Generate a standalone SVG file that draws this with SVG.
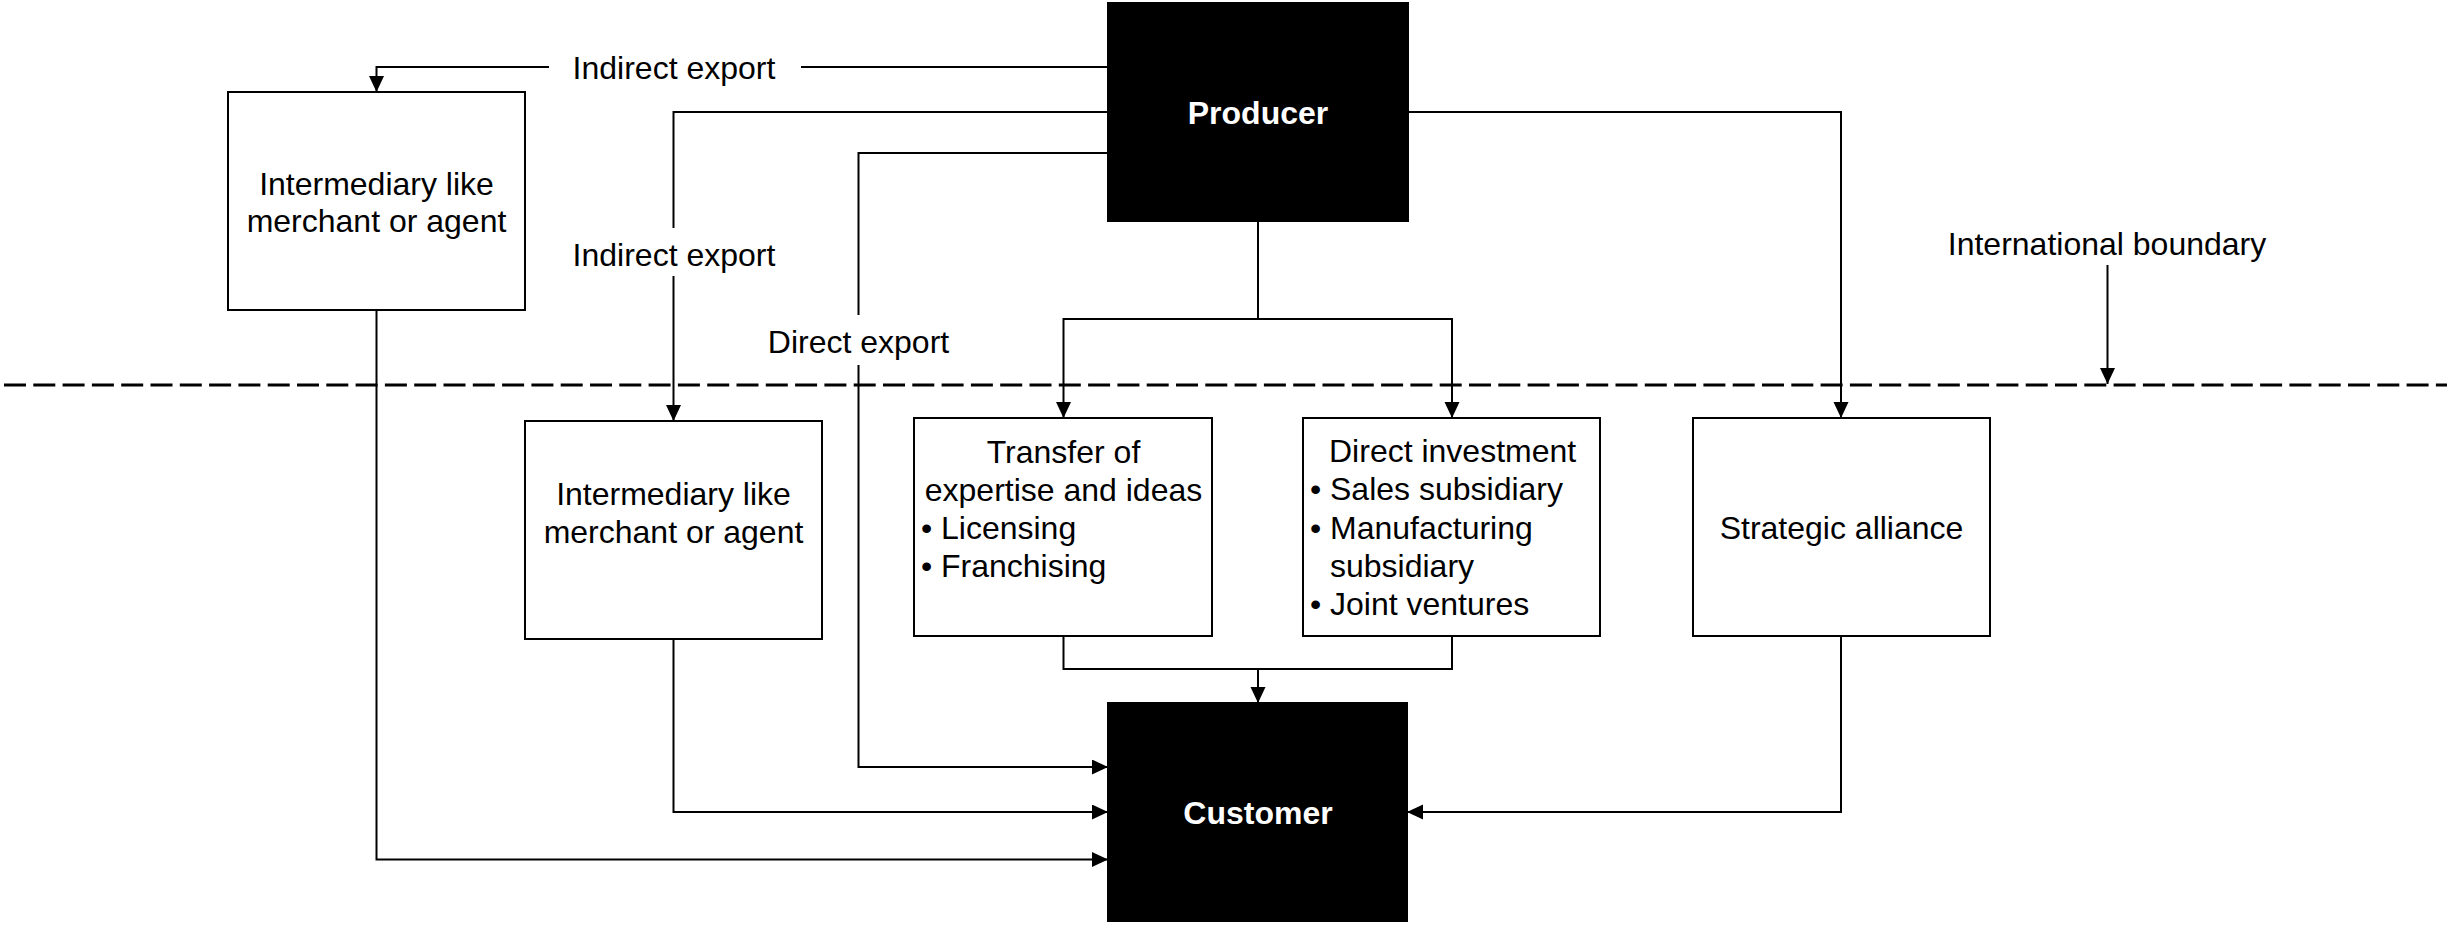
<svg xmlns="http://www.w3.org/2000/svg" width="2447" height="925" viewBox="0 0 2447 925">
  <style>
    .box { fill: #ffffff; stroke: #000000; stroke-width: 2; }
    .dark { fill: #000000; stroke: #000000; stroke-width: 2; }
    .t { font-family: "Liberation Sans", Arial, sans-serif; font-size: 32px; fill: #000000; }
    .c { text-anchor: middle; }
    .w { fill: #ffffff; font-weight: bold; }
    .ln { fill: none; stroke: #000000; stroke-width: 2; }
    .arr { marker-end: url(#head); }
    .border { fill: none; stroke: #000000; stroke-width: 3; stroke-dasharray: 22 7.3; }
  </style>
  <defs>
    <marker id="head" markerUnits="userSpaceOnUse" markerWidth="17" markerHeight="16" refX="16" refY="7.5" orient="auto">
      <path d="M0,0 L16,7.5 L0,15 z" fill="#000000"/>
    </marker>
  </defs>
  <rect width="2447" height="925" fill="#ffffff"/>

  <!-- international boundary -->
  <line class="border" x1="4" y1="385" x2="2447" y2="385"/>

  <!-- connectors -->
  <g id="connectors">
    <!-- producer to foreign-side intermediary (indirect export, top) -->
    <path class="ln" d="M1108,67 H801"/>
    <path class="ln arr" d="M549,67 H376.5 V92"/>
    <!-- producer to home-side intermediary -->
    <path class="ln" d="M1108,112 H673.5 V228"/>
    <path class="ln arr" d="M673.5,276 V421"/>
    <!-- direct export -->
    <path class="ln" d="M1108,153 H858.5 V315"/>
    <path class="ln arr" d="M858.5,365 V767 H1108"/>
    <!-- producer to strategic alliance -->
    <path class="ln arr" d="M1408,112 H1841 V418"/>
    <!-- producer to transfer / direct investment -->
    <path class="ln" d="M1258,221 V319"/>
    <path class="ln arr" d="M1258,319 H1063.5 V418"/>
    <path class="ln arr" d="M1258,319 H1452 V418"/>
    <!-- transfer / direct investment to customer -->
    <path class="ln" d="M1063.5,636 V669 H1452 V636"/>
    <path class="ln arr" d="M1258,669 V703"/>
    <!-- intermediaries to customer -->
    <path class="ln arr" d="M673.5,639 V812 H1108"/>
    <path class="ln arr" d="M376.5,310 V859.5 H1108"/>
    <!-- strategic alliance to customer -->
    <path class="ln arr" d="M1841,636 V812 H1407"/>
    <!-- boundary pointer -->
    <path class="ln arr" d="M2107.5,265 V384"/>
  </g>

  <!-- connector labels -->
  <g id="labels">
    <text class="t c" x="674" y="78.5">Indirect export</text>
    <text class="t c" x="674" y="266">Indirect export</text>
    <text class="t c" x="858.5" y="352.5">Direct export</text>
    <text class="t c" x="2107" y="254.5">International boundary</text>
  </g>

  <g id="producer">
    <rect class="dark" x="1108" y="3" width="300" height="218"/>
    <text class="t c w" x="1258" y="123.5">Producer</text>
  </g>

  <g id="customer">
    <rect class="dark" x="1108" y="703" width="299" height="218"/>
    <text class="t c w" x="1258" y="823.5">Customer</text>
  </g>

  <g id="intermediary-abroad">
    <rect class="box" x="228" y="92" width="297" height="218"/>
    <text class="t c" x="376.5" y="194.5">Intermediary like</text>
    <text class="t c" x="376.5" y="232">merchant or agent</text>
  </g>

  <g id="intermediary-home">
    <rect class="box" x="525" y="421" width="297" height="218"/>
    <text class="t c" x="673.5" y="505">Intermediary like</text>
    <text class="t c" x="673.5" y="542.5">merchant or agent</text>
  </g>

  <g id="transfer">
    <rect class="box" x="914" y="418" width="298" height="218"/>
    <text class="t c" x="1063.5" y="462.5">Transfer of</text>
    <text class="t c" x="1063.5" y="500.8">expertise and ideas</text>
    <text class="t" x="921" y="539.1">•</text>
    <text class="t" x="941" y="539.1">Licensing</text>
    <text class="t" x="921" y="577.4">•</text>
    <text class="t" x="941" y="577.4">Franchising</text>
  </g>

  <g id="direct-investment">
    <rect class="box" x="1303" y="418" width="297" height="218"/>
    <text class="t" x="1329" y="462">Direct investment</text>
    <text class="t" x="1310" y="500.3">•</text>
    <text class="t" x="1330" y="500.3">Sales subsidiary</text>
    <text class="t" x="1310" y="538.6">•</text>
    <text class="t" x="1330" y="538.6">Manufacturing</text>
    <text class="t" x="1330" y="576.9">subsidiary</text>
    <text class="t" x="1310" y="615.2">•</text>
    <text class="t" x="1330" y="615.2">Joint ventures</text>
  </g>

  <g id="strategic-alliance">
    <rect class="box" x="1693" y="418" width="297" height="218"/>
    <text class="t c" x="1841.5" y="538.5">Strategic alliance</text>
  </g>
</svg>
